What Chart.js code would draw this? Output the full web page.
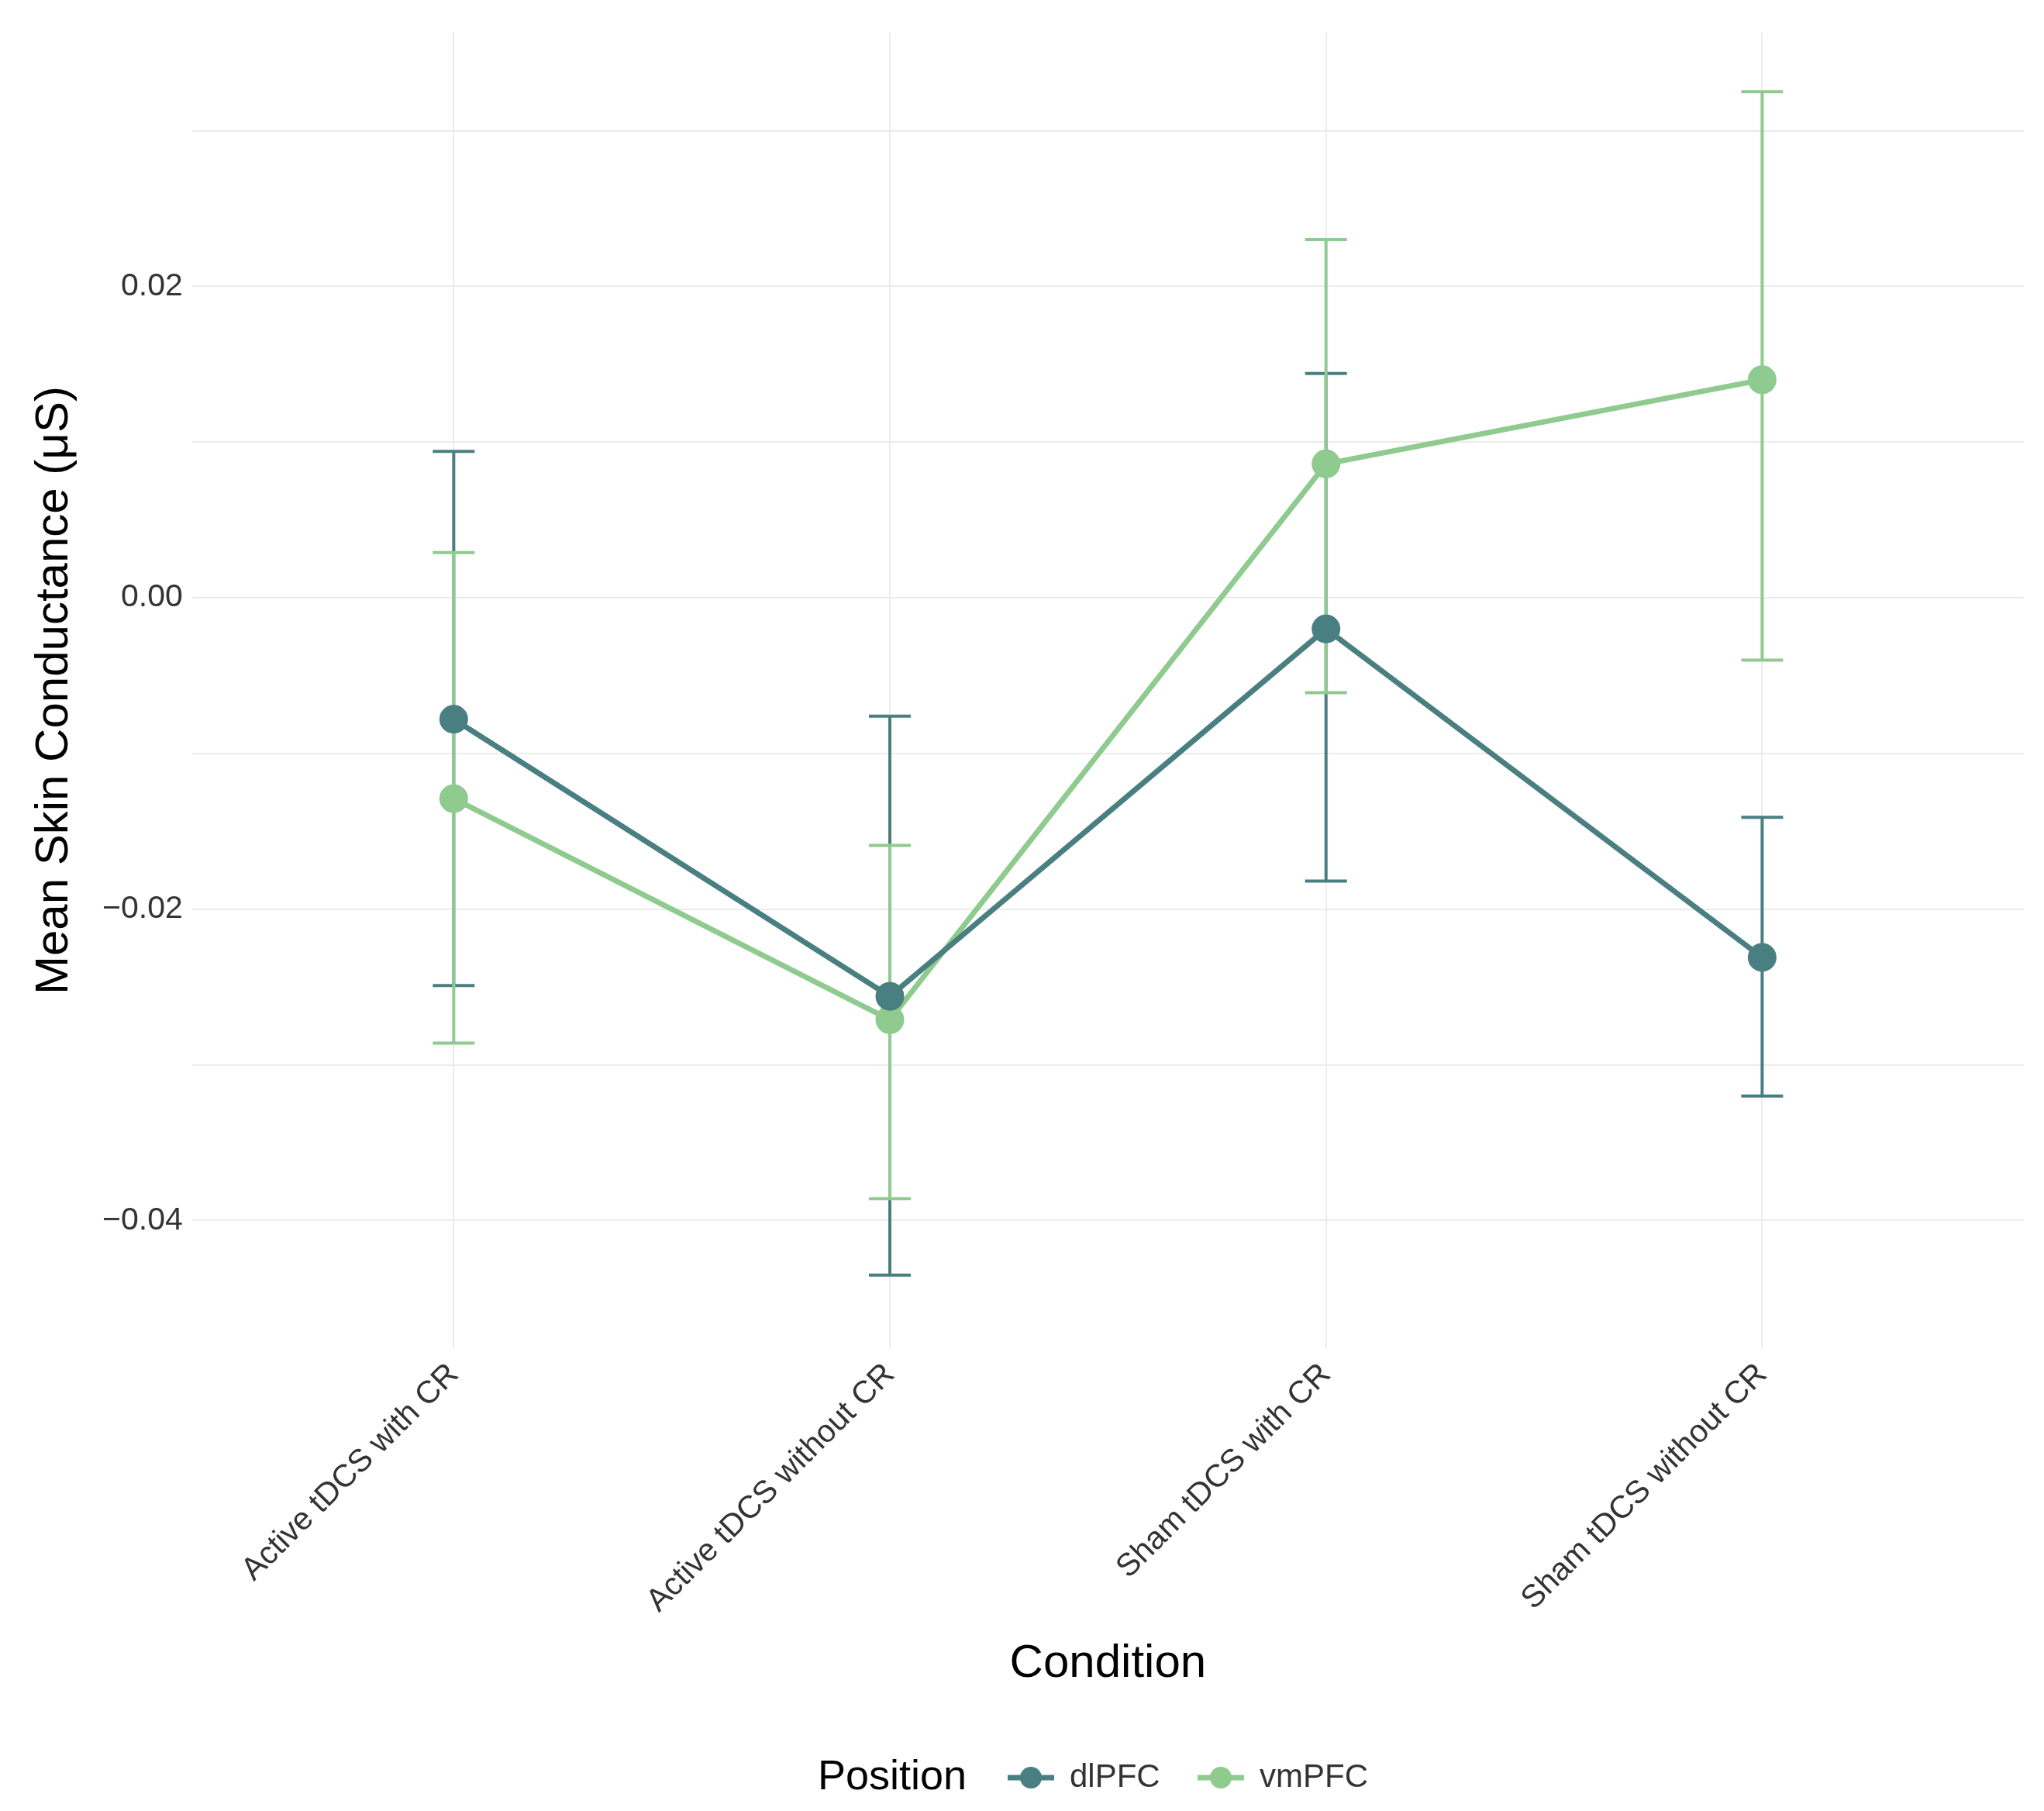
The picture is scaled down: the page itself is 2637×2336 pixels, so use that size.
<!DOCTYPE html>
<html><head><meta charset="utf-8">
<script src="https://cdn.jsdelivr.net/npm/chart.js@4"></script>
<style>html,body{margin:0;background:#fff}#w{width:2637px;height:2336px}</style>
</head><body><div id="w"><canvas id="c"></canvas></div>
<script>
const categories=["Active tDCS with CR","Active tDCS without CR","Sham tDCS with CR","Sham tDCS without CR"];
const dlMean=[-0.0078,-0.0256,-0.0020,-0.0231];
const dlLow=[-0.0249,-0.0435,-0.0182,-0.0320];
const dlHigh=[0.0094,-0.0076,0.0144,-0.0141];
const vmMean=[-0.0129,-0.0271,0.0086,0.0140];
const vmLow=[-0.0286,-0.0386,-0.0061,-0.0040];
const vmHigh=[0.0029,-0.0159,0.0230,0.0325];
const yTicks=[-0.04,-0.02,0.00,0.02];
const cDl="#4a7f82",cVm="#8fca8f";
const F="'Liberation Sans', Arial, sans-serif";
const ds=(label,m,lo,hi,col)=>({label,data:m.map((v,i)=>({x:i+1,y:v})),lo,hi,borderColor:col,backgroundColor:col,borderWidth:7,pointRadius:15,pointHoverRadius:15});
const errPlugin={id:'err',beforeDatasetsDraw(ch){
 const ctx=ch.ctx,x=ch.scales.x,y=ch.scales.y;
 ch.data.datasets.forEach(d=>{ctx.save();ctx.strokeStyle=d.borderColor;ctx.lineWidth=4;
  d.data.forEach((p,i)=>{const px=x.getPixelForValue(p.x),t=y.getPixelForValue(d.hi[i]),b=y.getPixelForValue(d.lo[i]);
   ctx.beginPath();ctx.moveTo(px,t);ctx.lineTo(px,b);ctx.moveTo(px-27,t);ctx.lineTo(px+27,t);ctx.moveTo(px-27,b);ctx.lineTo(px+27,b);ctx.stroke();});
  ctx.restore();});
},afterDraw(ch){
 const ctx=ch.ctx;ctx.save();ctx.textBaseline='middle';
 const yy=2293;ctx.fillStyle='#000';ctx.font='54px '+F;ctx.fillText('Position',1055,yy);
 [[cDl,'dlPFC',1300],[cVm,'vmPFC',1545]].forEach(([c,t,x0])=>{
  ctx.strokeStyle=c;ctx.lineWidth=7;ctx.beginPath();ctx.moveTo(x0,yy);ctx.lineTo(x0+60,yy);ctx.stroke();
  ctx.fillStyle=c;ctx.beginPath();ctx.arc(x0+30,yy,14,0,7);ctx.fill();
  ctx.fillStyle='#333';ctx.font='42px '+F;ctx.fillText(t,x0+80,yy);});
 ctx.restore();}};
new Chart(document.getElementById('c'),{type:'line',
 data:{datasets:[ds('dlPFC',dlMean,dlLow,dlHigh,cDl),ds('vmPFC',vmMean,vmLow,vmHigh,cVm)]},
 options:{responsive:true,maintainAspectRatio:false,animation:false,devicePixelRatio:1,
  layout:{padding:{top:42,right:26,bottom:150,left:30}},
  plugins:{legend:{display:false},tooltip:{enabled:false}},
  scales:{
   x:{type:'linear',min:0.4,max:4.6,afterBuildTicks:a=>{a.ticks=[1,2,3,4].map(v=>({value:v}));},
    ticks:{callback:v=>categories[v-1],maxRotation:45,minRotation:45,color:'#333',font:{size:41,family:F},padding:10},
    grid:{color:'#ebebeb',lineWidth:2,drawTicks:false},border:{display:false},
    title:{display:true,text:'Condition',color:'#000',font:{size:60,family:F},padding:{top:10}}},
   y:{min:-0.0482,max:0.0363,afterBuildTicks:a=>{a.ticks=[-0.04,-0.03,-0.02,-0.01,0,0.01,0.02,0.03].map(v=>({value:v}));},
    ticks:{callback:v=>{const r=Math.round(v*100)/100;return yTicks.some(t=>Math.abs(t-r)<1e-9)&&Math.abs(v-r)<1e-9&&Math.round(v*100)%2===0?(r<0?'−':'')+Math.abs(r).toFixed(2):'';},color:'#333',font:{size:41,family:F},padding:12},
    grid:{color:'#ebebeb',lineWidth:2,drawTicks:false},border:{display:false},
    title:{display:true,text:'Mean Skin Conductance (μS)',color:'#000',font:{size:60,family:F},padding:{bottom:14}}}
  }},plugins:[errPlugin]});
</script></body></html>
